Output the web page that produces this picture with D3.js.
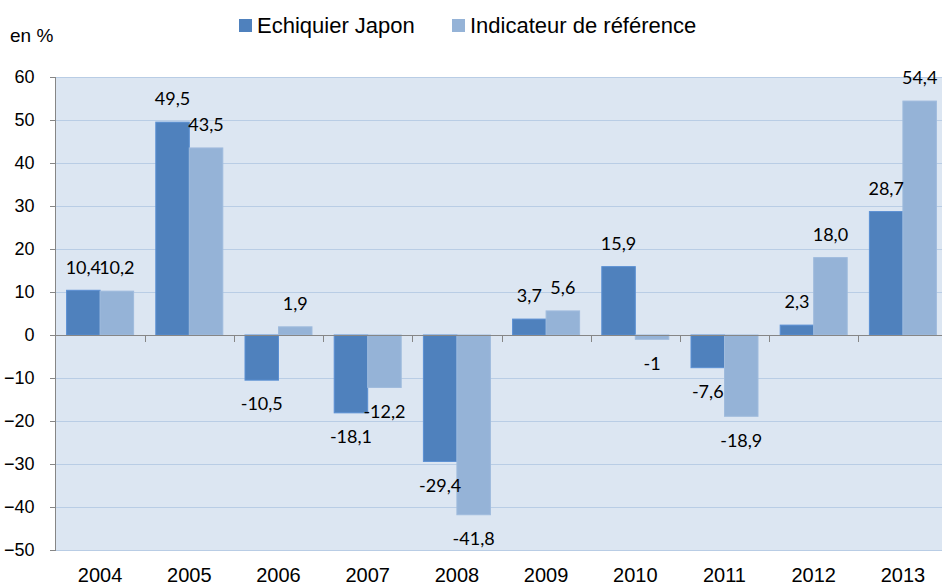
<!DOCTYPE html>
<html lang="fr">
  <head>
    <meta charset="UTF-8"/>
    <title>Echiquier Japon</title>
    <script src="https://d3js.org/d3.v7.min.js"></script>
    <style>
        body {
          margin: 0;
          background: #fff;
          font-family: "Liberation Sans", Arial, sans-serif;
        }
        .grid line {
          stroke: #b9cde5;
          shape-rendering: crispEdges;
        }
        .axis path,
        .axis line {
          fill: none;
          stroke: #868686;
          shape-rendering: crispEdges;
        }
        .label {
          font-family: Lato, "Noto Sans", sans-serif;
          font-size: 18px;
          fill: #000;
        }
    </style>
  </head>
  <body>
    <script>
        const years = ["2004", "2005", "2006", "2007", "2008", "2009", "2010", "2011", "2012", "2013"]
        const echiquier = [10.4, 49.5, -10.5, -18.1, -29.4, 3.7, 15.9, -7.6, 2.3, 28.7]
        const indicateur = [10.2, 43.5, 1.9, -12.2, -41.8, 5.6, -1, -18.9, 18.0, 54.4]
        const echiquierLabels = ["10,4", "49,5", "-10,5", "-18,1", "-29,4", "3,7", "15,9", "-7,6", "2,3", "28,7"]
        const indicateurLabels = ["10,2", "43,5", "1,9", "-12,2", "-41,8", "5,6", "-1", "-18,9", "18,0", "54,4"]
        const yTicks = [60, 50, 40, 30, 20, 10, 0, -10, -20, -30, -40, -50]
        const seriesNames = ["Echiquier Japon", "Indicateur de référence"]
        const colors = ["#4f81bd", "#95b3d7"]

        const width = 942, height = 585
        const plot = {left: 55.5, right: 947.5, top: 77, bottom: 550}
        const barWidth = 33.5

        const svg = d3.select("body").append("svg")
            .attr("width", width)
            .attr("height", height)

        const x = d3.scaleBand()
            .domain(years)
            .range([plot.left, plot.right])

        const y = d3.scaleLinear()
            .domain([-50, 60])
            .range([plot.bottom, plot.top])

        // plot area background
        svg.append("rect")
            .attr("x", plot.left)
            .attr("y", plot.top)
            .attr("width", plot.right - plot.left)
            .attr("height", plot.bottom - plot.top)
            .attr("fill", "#dce6f2")

        // horizontal gridlines
        svg.append("g")
            .attr("class", "grid")
          .selectAll("line")
          .data(yTicks.filter(d => d !== 0))
          .join("line")
            .attr("x1", plot.left)
            .attr("x2", plot.right)
            .attr("y1", d => Math.round(y(d)) + 0.5)
            .attr("y2", d => Math.round(y(d)) + 0.5)

        // bars
        const series = [echiquier, indicateur]
        series.forEach((values, i) => {
          svg.append("g")
            .selectAll("rect")
            .data(values)
            .join("rect")
              .attr("x", (d, j) => x(years[j]) + x.bandwidth() / 2 - barWidth + i * barWidth)
              .attr("y", d => y(Math.max(0, d)))
              .attr("width", barWidth)
              .attr("height", d => Math.abs(y(d) - y(0)))
              .attr("fill", colors[i])
              .attr("stroke", i === 0 ? "#5a8fd3" : "#9fbbdd")
              .attr("stroke-width", 1)
        })

        // y axis
        const yAxis = d3.axisLeft(y)
            .tickValues(yTicks)
            .tickSize(6)
            .tickPadding(15)
            .tickFormat(d3.format("d"))

        svg.append("g")
            .attr("class", "axis y")
            .attr("transform", `translate(${plot.left}, 0)`)
            .call(yAxis)
            .call(g => g.select(".domain").attr("d", `M0,${plot.top}V${plot.bottom}`))
            .call(g => g.selectAll("text")
              .attr("font-family", "'Liberation Sans', Arial, sans-serif")
              .attr("font-size", 18)
              .attr("fill", "#000"))

        // zero line with category ticks
        const zero = Math.round(y(0)) + 0.5
        const xAxis = svg.append("g")
            .attr("class", "axis x")
        xAxis.append("line")
            .attr("x1", plot.left - 6)
            .attr("x2", plot.right)
            .attr("y1", zero)
            .attr("y2", zero)
            .attr("stroke-width", 1.5)
        xAxis.selectAll(".tick")
          .data(years.slice(1))
          .join("line")
            .attr("class", "tick")
            .attr("x1", d => Math.round(x(d)) + 0.5)
            .attr("x2", d => Math.round(x(d)) + 0.5)
            .attr("y1", zero)
            .attr("y2", zero + 6)

        // year labels under the plot
        svg.append("g")
          .selectAll("text")
          .data(years)
          .join("text")
            .attr("x", d => x(d) + x.bandwidth() / 2)
            .attr("y", plot.bottom + 32)
            .attr("text-anchor", "middle")
            .attr("font-size", 20)
            .text(d => d)

        // data labels
        const allLabels = [echiquierLabels, indicateurLabels]
        series.forEach((values, i) => {
          svg.append("g")
            .selectAll("text")
            .data(values)
            .join("text")
              .attr("class", "label")
              .attr("x", (d, j) => x(years[j]) + x.bandwidth() / 2 - barWidth / 2 + i * barWidth)
              .attr("y", d => d >= 0 ? y(d) - 23 : y(d) + 24)
              .attr("dy", "0.35em")
              .attr("text-anchor", "middle")
              .text((d, j) => allLabels[i][j])
        })

        // unit
        svg.append("text")
            .attr("x", 10)
            .attr("y", 42)
            .attr("font-size", 19)
            .text("en %")

        // legend
        const legendX = [239, 452]
        const legend = svg.append("g")
          .selectAll("g")
          .data(seriesNames)
          .join("g")
            .attr("transform", (d, i) => `translate(${legendX[i]}, 19)`)
        legend.append("rect")
            .attr("width", 13)
            .attr("height", 13)
            .attr("fill", (d, i) => colors[i])
        legend.append("text")
            .attr("x", 18)
            .attr("y", 6.5)
            .attr("dy", "0.35em")
            .attr("font-size", 22)
            .text(d => d)
    </script>
  </body>
</html>
